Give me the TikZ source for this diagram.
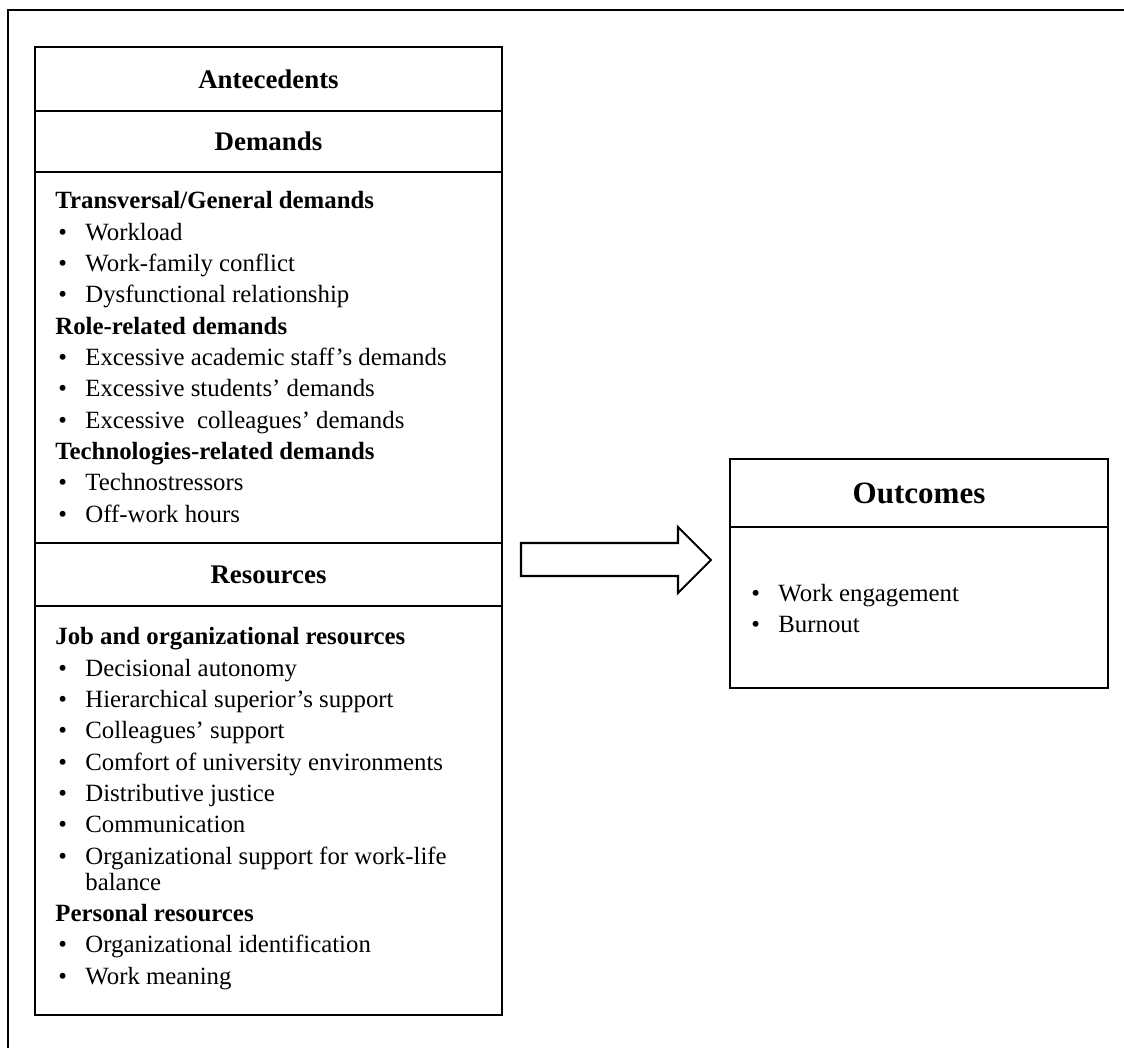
\documentclass[tikz,border=0pt]{standalone}
\usepackage{fontspec}
\setmainfont{Liberation Serif}
\usetikzlibrary{positioning}
\newlength{\pxu}
\setlength{\pxu}{0.017cm}
\newcommand{\bul}{\makebox[30\pxu][l]{\hspace{3\pxu}\textbullet}}
\newcommand{\cont}{\hspace*{30\pxu}}

\tikzset{
  frame/.style={line width=1pt},
  headtext/.style={font=\fontsize{13}{15}\selectfont\bfseries},
  listtext/.style={align=left, anchor=base west, inner sep=0pt,
    font=\fontsize{12}{15.14}\selectfont},
}

\begin{document}
\begin{tikzpicture}[x=0.017cm, y=-0.017cm]
			%%%%% START %%%%%
			\useasboundingbox (0, 0) rectangle (1124, 1048);
			
			% page frame (cut off right and bottom)
			\draw[line width=1.2pt] (8, 1048) -- (8, 10) -- (1124, 10);
			
			% antecedents column
			\draw[frame] (35, 47) rectangle (502, 1015);
			\draw[frame] (35, 111) -- (502, 111);
			\draw[frame] (35, 172) -- (502, 172);
			\draw[frame] (35, 543) -- (502, 543);
			\draw[frame] (35, 606) -- (502, 606);
			
			\node[headtext] (antec) at (268.5, 79) {Antecedents};
			\node[headtext] (demands) at (268.5, 141.5) {Demands};
			\node[headtext] (resources) at (268.5, 574.5) {Resources};
			
			% lists are placed by the baseline of their last line
			\node[listtext] (demlist) at (55, 522) {%
				\textbf{Transversal/General demands}\\
				\bul Workload\\
				\bul Work-family conflict\\
				\bul Dysfunctional relationship\\
				\textbf{Role-related demands}\\
				\bul Excessive academic staff’s demands\\
				\bul Excessive students’ demands\\
				\bul Excessive\ \ colleagues’ demands\\
				\textbf{Technologies-related demands}\\
				\bul Technostressors\\
				\bul Off-work hours};
			
			\node[listtext] (reslist) at (55, 984) {%
				\textbf{Job and organizational resources}\\
				\bul Decisional autonomy\\
				\bul Hierarchical superior’s support\\
				\bul Colleagues’ support\\
				\bul Comfort of university environments\\
				\bul Distributive justice\\
				\bul Communication\\
				\bul Organizational support for work-life\\[-2.56pt]
				\cont balance\\
				\textbf{Personal resources}\\
				\bul Organizational identification\\
				\bul Work meaning};
			
			% block arrow
			\draw[frame] (521, 543) -- (678, 543) -- (678, 527) -- (711, 560)
				-- (678, 593) -- (678, 576) -- (521, 576) -- cycle;
			
			% outcomes box
			\draw[frame] (730, 459) rectangle (1108, 688);
			\draw[frame] (730, 527) -- (1108, 527);
			\node[font=\fontsize{15}{18}\selectfont\bfseries] (outcomes) at (919, 493) {Outcomes};
			\node[listtext, font=\fontsize{12}{14.65}\selectfont] (outlist) at (748, 632) {%
				\bul Work engagement\\
				\bul Burnout};
			
			%%%%% END %%%%%
\end{tikzpicture}
\end{document}
